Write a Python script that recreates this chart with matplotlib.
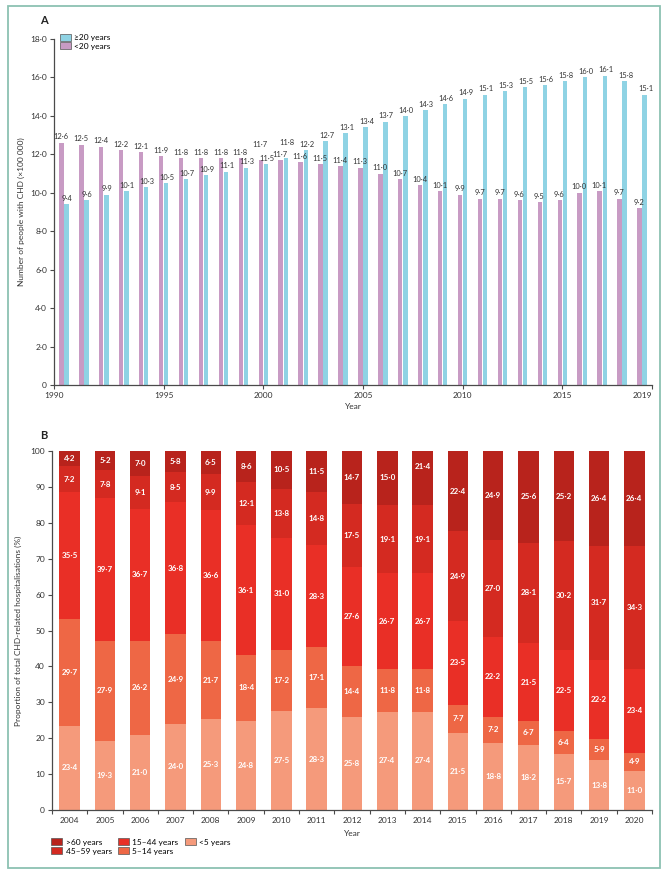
import numpy as np
import matplotlib
matplotlib.use('Agg')
import matplotlib.pyplot as plt
from matplotlib.patches import Rectangle

plt.rcParams['font.family'] = ['Lato', 'DejaVu Sans']

# Panel A: number of people with CHD (x100 000), 1990-2019
years_a = list(range(1990, 2020))
under20 = [12.6, 12.5, 12.4, 12.2, 12.1, 11.9, 11.8, 11.8, 11.8, 11.8,
           11.7, 11.7, 11.6, 11.5, 11.4, 11.3, 11.0, 10.7, 10.4, 10.1,
           9.9, 9.7, 9.7, 9.6, 9.5, 9.6, 10.0, 10.1, 9.7, 9.2]
over20 = [9.4, 9.6, 9.9, 10.1, 10.3, 10.5, 10.7, 10.9, 11.1, 11.3,
          11.5, 11.8, 12.2, 12.7, 13.1, 13.4, 13.7, 14.0, 14.3, 14.6,
          14.9, 15.1, 15.3, 15.5, 15.6, 15.8, 16.0, 16.1, 15.8, 15.1]
tick_years_a = [1990, 1995, 2000, 2005, 2010, 2015, 2019]

# Panel B: proportion of CHD-related hospitalisations (%), 2004-2020
years_b = list(range(2004, 2021))
age_lt5 = [23.4, 19.3, 21.0, 24.0, 25.3, 24.8, 27.5, 28.3, 25.8, 27.4,
           27.4, 21.5, 18.8, 18.2, 15.7, 13.8, 11.0]
age_5_14 = [29.7, 27.9, 26.2, 24.9, 21.7, 18.4, 17.2, 17.1, 14.4, 11.8,
            11.8, 7.7, 7.2, 6.7, 6.4, 5.9, 4.9]
age_15_44 = [35.5, 39.7, 36.7, 36.8, 36.6, 36.1, 31.0, 28.3, 27.6, 26.7,
             26.7, 23.5, 22.2, 21.5, 22.5, 22.2, 23.4]
age_45_59 = [7.2, 7.8, 9.1, 8.5, 9.9, 12.1, 13.8, 14.8, 17.5, 19.1,
             19.1, 24.9, 27.0, 28.1, 30.2, 31.7, 34.3]
age_gt60 = [4.2, 5.2, 7.0, 5.8, 6.5, 8.6, 10.5, 11.5, 14.7, 15.0,
            21.4, 22.4, 24.9, 25.6, 25.2, 26.4, 26.4]


def fmt(v):
    return f'{v:.1f}'.replace('.', '·')


axis_col = '#4a4a4a'
text_col = '#333333'

fig = plt.figure(figsize=(6.7, 8.75), dpi=100)

# outer frame
fig.patches.append(Rectangle((8 / 670, 1 - 868 / 875), 652 / 670, 862 / 875,
                             transform=fig.transFigure, fill=False,
                             edgecolor='#8cc2b2', linewidth=1.3))

# ---------------- Panel A ----------------
axA = fig.add_axes([54 / 670, 1 - 385 / 875, 598 / 670, 346 / 875])
x = np.arange(len(years_a))
w = 0.22
b1 = axA.bar(x - w / 2 - 0.02, under20, width=w, color='#c89bc4', label='<20 years')
b2 = axA.bar(x + w / 2 + 0.02, over20, width=w, color='#8fd3e4', label='≥20 years')
for xi, u, o in zip(x, under20, over20):
    # lift the higher label when the two values are too close to fit side by side
    du = 0.5 if (abs(u - o) < 0.4 and u > o) else 0
    do = 0.5 if (abs(u - o) < 0.4 and o > u) else 0
    axA.text(xi - w / 2 - 0.04, u + 0.12 + du, fmt(u), ha='center', va='bottom',
             fontsize=5.4, color=text_col)
    axA.text(xi + w / 2 + 0.06, o + 0.12 + do, fmt(o), ha='center', va='bottom',
             fontsize=5.4, color=text_col)

axA.set_xlim(-0.5, len(years_a) - 0.5)
axA.set_ylim(0, 18)
tick_pos = [(y - 1990) if y not in (1990, 2019) else (-0.5 if y == 1990 else len(years_a) - 0.5)
            for y in tick_years_a]
axA.set_xticks(tick_pos)
axA.set_xticklabels([str(y) for y in tick_years_a])
last = axA.get_xticklabels()[-1]
last.set_horizontalalignment('right')
yt = np.arange(0, 19, 2)
axA.set_yticks(yt)
axA.set_yticklabels(['0' if v == 0 else fmt(v) for v in yt])
axA.set_xlabel('Year', fontsize=6, color=text_col, labelpad=3)
axA.set_ylabel('Number of people with CHD (×100 000)', fontsize=6,
               color=text_col, labelpad=4)
h, l = axA.get_legend_handles_labels()
leg = axA.legend([h[1], h[0]], [l[1], l[0]], loc='upper left',
                 bbox_to_anchor=(0.005, 1.025), frameon=False, fontsize=6,
                 handlelength=1.3, handleheight=0.9, handletextpad=0.4,
                 labelspacing=0.15, borderaxespad=0)
for patch in leg.get_patches():
    patch.set_edgecolor('#555555')
    patch.set_linewidth(0.5)
fig.text(40 / 670, 1 - 21 / 875, 'A', fontsize=8, fontweight='bold',
         color='#222222', va='center')

# ---------------- Panel B ----------------
axB = fig.add_axes([52 / 670, 1 - 810 / 875, 600 / 670, 359 / 875])
xb = np.arange(len(years_b))
series = [
    ('<5 years', age_lt5, '#f59a7b'),
    ('5–14 years', age_5_14, '#ee6745'),
    ('15–44 years', age_15_44, '#e92f26'),
    ('45–59 years', age_45_59, '#d42a21'),
    ('>60 years', age_gt60, '#b8231c'),
]
bottom = np.zeros(len(years_b))
handles = {}
for name, vals, col in series:
    vals = np.array(vals)
    bars = axB.bar(xb, vals, width=0.58, bottom=bottom, color=col, label=name)
    handles[name] = bars
    for xi, b0, v in zip(xb, bottom, vals):
        axB.text(xi, b0 + v / 2, fmt(v), ha='center', va='center',
                 fontsize=5.8, color='white', fontweight='bold')
    bottom = bottom + vals

axB.set_xlim(-0.5, len(years_b) - 0.5)
axB.set_ylim(0, 100)
axB.set_xticks(xb)
axB.set_xticklabels([str(y) for y in years_b])
axB.set_xticks(np.arange(-0.5, len(years_b)), minor=True)
axB.tick_params(axis='x', which='major', length=0, pad=5)
axB.tick_params(axis='x', which='minor', length=3, width=0.8, color=axis_col)
axB.set_yticks(np.arange(0, 101, 10))
axB.set_xlabel('Year', fontsize=6, color=text_col, labelpad=4)
axB.set_ylabel('Proportion of total CHD-related hospitalisations (%)',
               fontsize=6, color=text_col, labelpad=6)
order = ['>60 years', '45–59 years', '15–44 years', '5–14 years', '<5 years']
legB = fig.legend([handles[k] for k in order], order, loc='upper left',
                  bbox_to_anchor=(48 / 670, 1 - 835 / 875), ncol=3,
                  frameon=False, fontsize=6, handlelength=1.3,
                  handleheight=0.9, handletextpad=0.4, labelspacing=0.2,
                  columnspacing=0.8, borderaxespad=0)
for patch in legB.get_patches():
    patch.set_edgecolor('#555555')
    patch.set_linewidth(0.5)
fig.text(40 / 670, 1 - 436 / 875, 'B', fontsize=8, fontweight='bold',
         color='#222222', va='center')

for ax in (axA, axB):
    for s in ('top', 'right'):
        ax.spines[s].set_visible(False)
    for s in ('left', 'bottom'):
        ax.spines[s].set_color(axis_col)
        ax.spines[s].set_linewidth(0.9)
    ax.tick_params(axis='both', labelsize=6, labelcolor=text_col)
    ax.tick_params(axis='y', length=3, width=0.8, color=axis_col, pad=2)
axA.tick_params(axis='x', length=3, width=0.8, color=axis_col, pad=2)

fig.savefig('out.png', dpi=100)
